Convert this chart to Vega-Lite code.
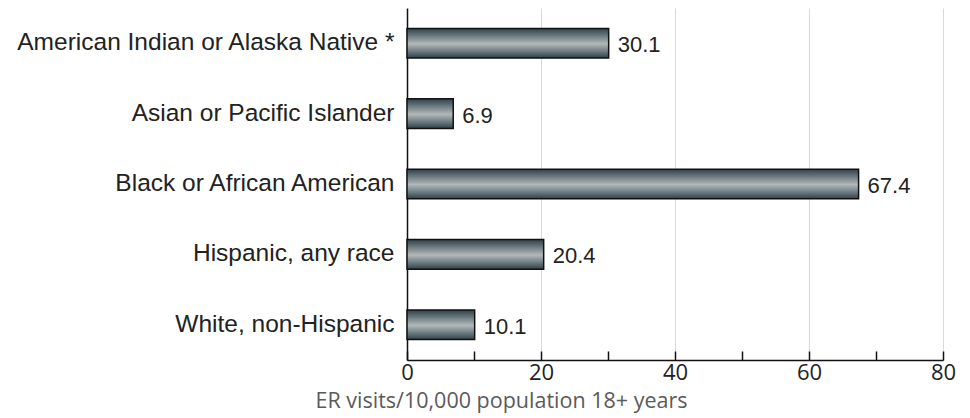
{
  "$schema": "https://vega.github.io/schema/vega-lite/v6.json",
  "width": 536,
  "height": 352,
  "autosize": "none",
  "padding": {"left": 407, "top": 8, "right": 27, "bottom": 58},
  "background": "white",
  "config": {"view": {"stroke": null}},
  "data": {
    "values": [
      {"group": "American Indian or Alaska Native *", "rate": 30.1},
      {"group": "Asian or Pacific Islander", "rate": 6.9},
      {"group": "Black or African American", "rate": 67.4},
      {"group": "Hispanic, any race", "rate": 20.4},
      {"group": "White, non-Hispanic", "rate": 10.1}
    ]
  },
  "encoding": {
    "y": {
      "field": "group",
      "type": "nominal",
      "sort": null,
      "scale": {"paddingInner": 0.58, "paddingOuter": 0.29},
      "axis": {
        "title": null,
        "ticks": false,
        "labelFont": "Liberation Sans",
        "labelFontSize": 24.5,
        "labelColor": "#222222",
        "labelPadding": 13,
        "labelLimit": 420,
        "domainColor": "#111111",
        "domainWidth": 1.5
      }
    },
    "x": {
      "field": "rate",
      "type": "quantitative",
      "scale": {"domain": [0, 80], "nice": false},
      "axis": {
        "title": "ER visits/10,000 population 18+ years",
        "titleFont": "Open Sans",
        "titleFontSize": 21.5,
        "titleFontWeight": "normal",
        "titleColor": "#5a5a5a",
        "titlePadding": 7,
        "titleX": 94,
        "titleAlign": "center",
        "values": [0, 10, 20, 30, 40, 50, 60, 70, 80],
        "labelExpr": "datum.value % 20 === 0 ? datum.label : ''",
        "labelFont": "Open Sans",
        "labelFontSize": 22,
        "labelColor": "#222222",
        "labelPadding": 11,
        "labelFlush": false,
        "tickSize": -9,
        "tickColor": "#111111",
        "tickWidth": 1.5,
        "domainColor": "#111111",
        "domainWidth": 1.5,
        "grid": true,
        "gridColor": {"condition": {"test": "datum.value % 20 === 0 && datum.value > 0", "value": "#d9d9d9"}, "value": "transparent"},
        "gridWidth": 1
      }
    }
  },
  "layer": [
    {
      "mark": {
        "type": "bar",
        "stroke": "#111111",
        "strokeWidth": 1.5,
        "color": {
          "gradient": "linear",
          "x1": 0, "y1": 0, "x2": 0, "y2": 1,
          "stops": [
            {"offset": 0, "color": "#33424a"},
            {"offset": 0.18, "color": "#5a6a70"},
            {"offset": 0.52, "color": "#b2b8ba"},
            {"offset": 0.8, "color": "#66757b"},
            {"offset": 1, "color": "#314046"}
          ]
        }
      }
    },
    {
      "mark": {
        "type": "text",
        "align": "left",
        "baseline": "middle",
        "dx": 9,
        "dy": 2,
        "font": "Liberation Sans",
        "fontSize": 22,
        "color": "#222222"
      },
      "encoding": {
        "text": {"field": "rate", "type": "quantitative", "format": ".1f"}
      }
    }
  ]
}
